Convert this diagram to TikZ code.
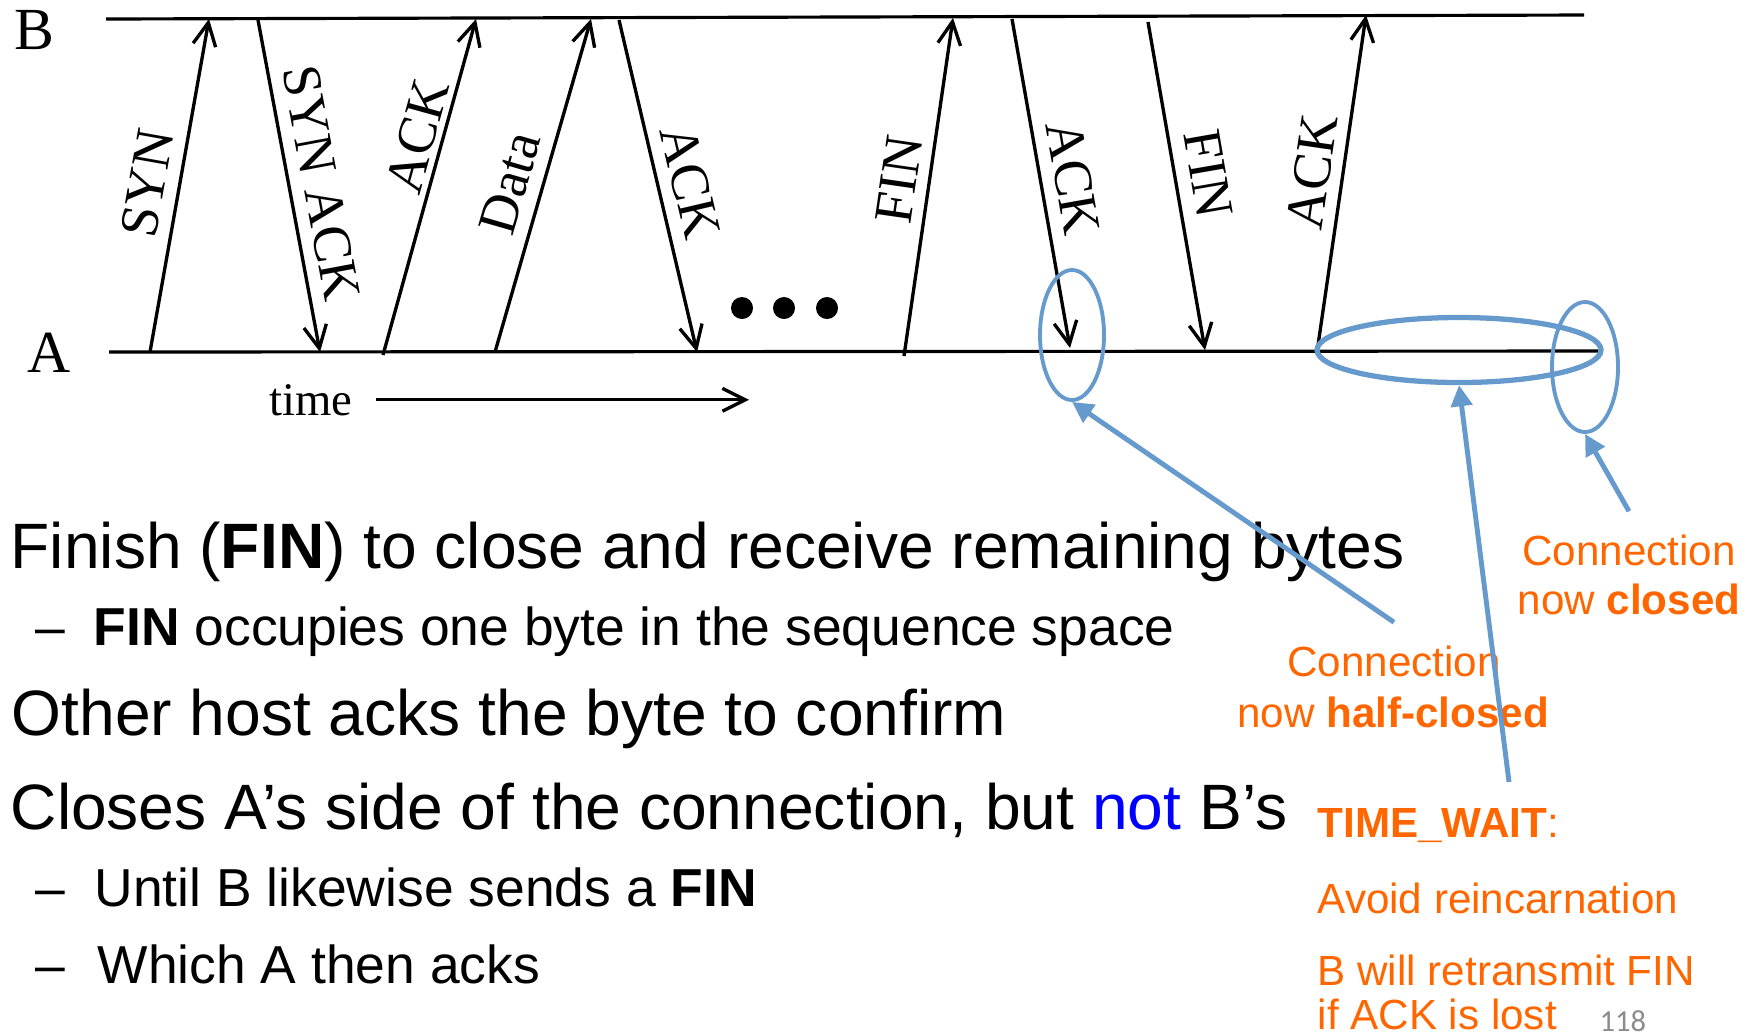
\documentclass[tikz,border=0pt]{standalone}
\usepackage{fontspec}
\setmainfont{Liberation Sans}
\newfontfamily\timesfont{Liberation Serif}
\newfontfamily\slidenumfont{Carlito}
\usetikzlibrary{arrows.meta, positioning, shapes.geometric}
\definecolor{hlblue}{HTML}{6699CC}
\definecolor{noteorange}{HTML}{FF6600}
\definecolor{notblue}{HTML}{0000FF}
\definecolor{numgray}{HTML}{8C8C8C}

\begin{document}
\begin{tikzpicture}[x=0.1mm, y=-0.1mm,
  timeline/.style={line width=0.9pt},
  msg/.style={-{Straight Barb[length=6.5pt, width=6.5pt]}, line width=0.95pt},
  lbl/.style={font=\timesfont\fontsize{15.5}{18}\selectfont, sloped, inner sep=1pt},
  hostlbl/.style={font=\timesfont\fontsize{17}{20}\selectfont, inner sep=0pt},
  hlring/.style={ellipse, draw=hlblue, line width=1.1pt, inner sep=0pt},
  hlarr/.style={-{Triangle[length=6pt, width=6pt]}, draw=hlblue, fill=hlblue, line width=1.4pt},
  mainline/.style={font=\fontsize{18.25}{21.6}\selectfont, anchor=base west, inner sep=0pt},
  subline/.style={font=\fontsize{15.2}{18}\selectfont, anchor=base west, inner sep=0pt},
  note/.style={font=\fontsize{12}{14.4}\selectfont, text=noteorange, anchor=base, inner sep=0pt},
]
  \useasboundingbox (0,0) rectangle (1760,1034);

  % Host timelines
  \coordinate (Bstart) at (106,19);
  \coordinate (Bend) at (1584,15);
  \coordinate (Astart) at (109,352);
  \coordinate (Aend) at (1598,351);
  \draw[timeline] (Bstart) -- (Bend);
  \draw[timeline] (Astart) -- (Aend);
  \node[hostlbl] (hostB) at (34,30) {B};
  \node[hostlbl] (hostA) at (49,353) {A};

  % Message end points
  \coordinate (synA) at (150,352);    \coordinate (synB) at (209,19);
  \coordinate (synackB) at (258,20);  \coordinate (synackA) at (320,352);
  \coordinate (ackoneA) at (383,355); \coordinate (ackoneB) at (476,19);
  \coordinate (dataA) at (495,352);   \coordinate (dataB) at (591,19);
  \coordinate (acktwoB) at (619,20);  \coordinate (acktwoA) at (697,352);
  \coordinate (finoneA) at (904,356); \coordinate (finoneB) at (953,18);
  \coordinate (ackthrB) at (1012,19); \coordinate (ackthrA) at (1070,348);
  \coordinate (fintwoB) at (1148,22); \coordinate (fintwoA) at (1205,350);
  \coordinate (ackfouA) at (1317,352); \coordinate (ackfouB) at (1366,15);

  % Messages
  \draw[msg] (synA) -- node[lbl, pos=0.49, above=2.5pt] {SYN} (synB);
  \draw[msg] (synackB) -- node[lbl, pos=0.51, above=2.5pt] {SYN ACK} (synackA);
  \draw[msg] (ackoneA) -- node[lbl, pos=0.63, above=0.5pt] {ACK} (ackoneB);
  \draw[msg] (dataA) -- node[lbl, pos=0.48, above=2.5pt] {Data} (dataB);
  \draw[msg] (acktwoB) -- node[lbl, pos=0.51, above=2.5pt] {ACK} (acktwoA);
  \draw[msg] (finoneA) -- node[lbl, pos=0.51, above=2pt] {FIN} (finoneB);
  \draw[msg] (ackthrB) -- node[lbl, pos=0.5, above=2.5pt] {ACK} (ackthrA);
  \draw[msg] (fintwoB) -- node[lbl, pos=0.48, above=3pt] {FIN} (fintwoA);
  \draw[msg] (ackfouA) -- node[lbl, pos=0.52, above=2pt] {ACK} (ackfouB);

  % Dots
  \foreach \dx in {742,784,827}
    \fill (\dx,308) circle (1.1mm);

  % Time axis
  \node[font=\timesfont\fontsize{13.3}{16}\selectfont, inner sep=0pt, anchor=base] (timelbl) at (311,415) {time};
  \coordinate (timeEnd) at (749,400);
  \draw[msg, shorten <=6.5pt] (timelbl.east) -- (timelbl.east -| timeEnd);

  % Highlight rings
  \node[hlring, minimum width=6.4mm, minimum height=13mm] (ringAck) at (1072,335) {};
  \node[hlring, line width=1.5pt, minimum width=28.4mm, minimum height=6.5mm] (ringWait) at (1459,350) {};
  \node[hlring, minimum width=6.6mm, minimum height=13mm] (ringClose) at (1585,367) {};

  % Bullet text
  \node[mainline] (finLine) at (10,568) {Finish (\textbf{FIN}) to close and receive remaining bytes};
  \node[subline] (finDash) at (35,645) {–};
  \node[subline] (finSub) at (93,645) {\textbf{FIN} occupies one byte in the sequence space};
  \node[mainline] (ackLine) at (11,735) {Other host acks the byte to confirm};
  \node[mainline] (closeLine) at (10,829) {Closes A’s side of the connection, but \textcolor{notblue}{not} B’s};
  \node[subline] (untilDash) at (35,906) {–};
  \node[subline] (untilSub) at (94,906) {Until B likewise sends a \textbf{FIN}};
  \node[subline] (whichDash) at (35,983) {–};
  \node[subline] (whichSub) at (97,983) {Which A then acks};

  % Orange notes
  \node[note] (closedTop) at (1629,565) {Connection};
  \node[note] (closedBot) at (1629,614) {now \textbf{closed}};
  \node[note] (halfTop) at (1394,676) {Connection};
  \node[note] (halfBot) at (1393,727) {now \textbf{half-closed}};
  \node[note, anchor=base west] (waitHead) at (1317,837) {\textbf{TIME\_WAIT}:};
  \node[note, anchor=base west] (waitWhy) at (1317,913) {Avoid reincarnation};
  \node[note, anchor=base west] (waitFin) at (1317,985) {B will retransmit FIN};
  \node[note, anchor=base west] (waitLost) at (1317,1029) {if ACK is lost};
  \node[font=\slidenumfont\fontsize{8.7}{10}\selectfont, text=numgray, anchor=base west, inner sep=0pt] (slideNum) at (1599,1031) {118};

  % Pointer arrows
  \coordinate (waitTail) at (1509,782);
  \draw[hlarr] ([yshift=6.4pt]halfTop.north) -- (ringAck.south);
  \draw[hlarr] (waitTail) -- (ringWait.south);
  \draw[hlarr] ([yshift=6.4pt]closedTop.north) -- (ringClose.south);
\end{tikzpicture}
\end{document}
